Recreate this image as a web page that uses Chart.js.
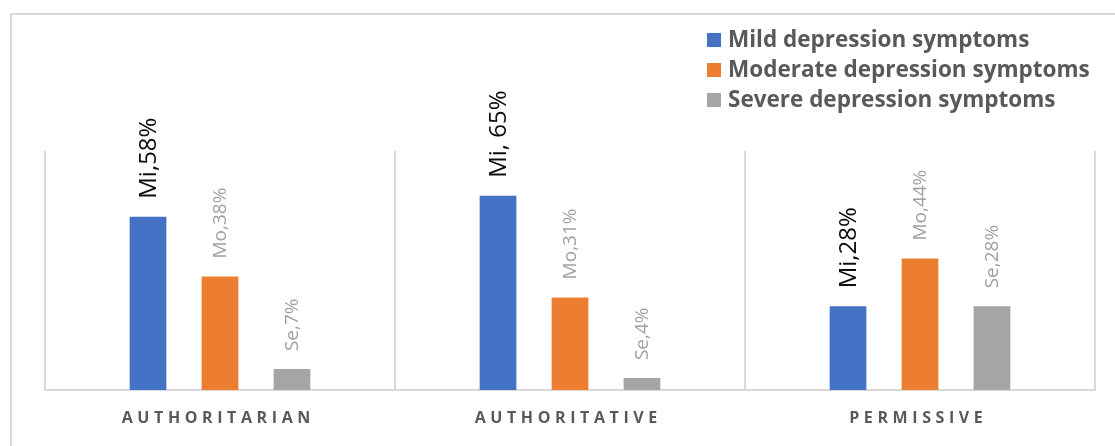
<!DOCTYPE html>
<html>
<head>
<meta charset="utf-8">
<title>Depression symptoms by parenting style</title>
<script src="https://cdn.jsdelivr.net/npm/chart.js@4.4.1/dist/chart.umd.min.js"></script>
<style>
  html, body { margin: 0; padding: 0; background: #ffffff; }
  #wrap { width: 1115px; height: 446px; }
</style>
</head>
<body>
<div id="wrap"><canvas id="chart" width="1115" height="446"></canvas></div>
<script>
// Parenting styles on the category axis
const categories = ['AUTHORITARIAN', 'AUTHORITATIVE', 'PERMISSIVE'];

// Share of respondents (%) per symptom level
const mildValues = [58, 65, 28];
const moderateValues = [38, 31, 44];
const severeValues = [7, 4, 28];

const seriesNames = ['Mild depression symptoms', 'Moderate depression symptoms', 'Severe depression symptoms'];
const seriesShort = ['Mi', 'Mo', 'Se'];
const seriesColors = ['#4472C4', '#ED7D31', '#A5A5A5'];

// Separator between short name and value in each point label, per series
const labelSeparators = [
  [',', ', ', ','],
  [',', ',', ','],
  [',', ',', ',']
];

// Value axis range (hidden)
const yMin = 0;
const yMax = 80;

const FONT = "'Open Sans', 'Segoe UI', 'DejaVu Sans', sans-serif";

// Light frame around the chart
const framePlugin = {
  id: 'frame',
  beforeDraw(chart) {
    const ctx = chart.ctx;
    ctx.save();
    ctx.fillStyle = '#ffffff';
    ctx.fillRect(0, 0, chart.width, chart.height);
    ctx.strokeStyle = '#d9d9d9';
    ctx.lineWidth = 2;
    ctx.strokeRect(11, 14, chart.width + 40, chart.height + 40);
    ctx.restore();
  }
};

// Rotated value labels above each bar
const barLabelPlugin = {
  id: 'barLabels',
  afterDatasetsDraw(chart) {
    const ctx = chart.ctx;
    chart.data.datasets.forEach((ds, di) => {
      const meta = chart.getDatasetMeta(di);
      meta.data.forEach((bar, i) => {
        const text = seriesShort[di] + labelSeparators[di][i] + ds.data[i] + '%';
        ctx.save();
        ctx.translate(bar.x + 1, bar.y - 18);
        ctx.rotate(-Math.PI / 2);
        ctx.textAlign = 'left';
        ctx.textBaseline = 'middle';
        if (di === 0) {
          ctx.font = '24px ' + FONT;
          ctx.fillStyle = '#0d0d0d';
        } else {
          ctx.font = '19px ' + FONT;
          ctx.fillStyle = '#a0a0a0';
        }
        ctx.fillText(text, 0, 0);
        ctx.restore();
      });
    });
  }
};

// Spaced-out category names under the axis
const categoryLabelPlugin = {
  id: 'categoryLabels',
  afterDraw(chart) {
    const ctx = chart.ctx;
    const xs = chart.scales.x;
    ctx.save();
    ctx.font = 'bold 16px ' + FONT;
    ctx.fillStyle = '#595959';
    ctx.textAlign = 'center';
    ctx.textBaseline = 'middle';
    const spacing = 4.6;
    ctx.letterSpacing = spacing + 'px';
    categories.forEach((c, i) => {
      const x = xs.getPixelForTick(i);
      ctx.fillText(c, x + spacing / 2 - 4, 418);
    });
    ctx.restore();
  }
};

// Legend stacked in the top-right corner
const legendPlugin = {
  id: 'cornerLegend',
  afterDraw(chart) {
    const ctx = chart.ctx;
    ctx.save();
    ctx.font = 'bold 22.5px ' + FONT;
    ctx.textAlign = 'left';
    ctx.textBaseline = 'middle';
    const rowY = [40, 70, 100];
    seriesNames.forEach((name, i) => {
      ctx.fillStyle = seriesColors[i];
      ctx.fillRect(707, rowY[i] - 7, 14, 14);
      ctx.fillStyle = '#595959';
      ctx.fillText(name, 728, rowY[i] + 1);
    });
    ctx.restore();
  }
};

const seriesValues = [mildValues, moderateValues, severeValues];

new Chart(document.getElementById('chart'), {
  type: 'bar',
  data: {
    labels: categories,
    datasets: seriesValues.map((vals, i) => ({
      label: seriesNames[i],
      data: vals,
      backgroundColor: seriesColors[i],
      borderWidth: 0,
      categoryPercentage: 0.617,
      barPercentage: 0.51
    }))
  },
  options: {
    responsive: false,
    devicePixelRatio: 1,
    animation: false,
    layout: { padding: { left: 45, right: 20, top: 151, bottom: 56 } },
    plugins: {
      legend: { display: false },
      tooltip: { enabled: false }
    },
    scales: {
      x: {
        grid: { offset: true, color: '#d9d9d9', lineWidth: 2, drawTicks: false },
        border: { color: '#d9d9d9', width: 2 },
        ticks: { display: false }
      },
      y: {
        display: false,
        min: yMin,
        max: yMax
      }
    }
  },
  plugins: [framePlugin, barLabelPlugin, categoryLabelPlugin, legendPlugin]
});
</script>
</body>
</html>
